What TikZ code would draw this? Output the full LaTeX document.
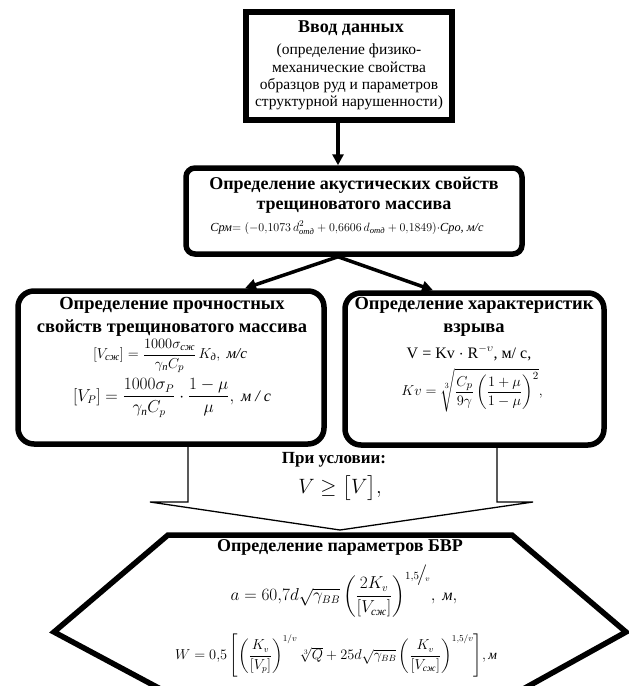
\documentclass[tikz,border=0pt]{standalone}
\usepackage{amsmath}
\usepackage{fontspec}
\setmainfont{Liberation Serif}
\usetikzlibrary{arrows.meta,calc}
\newcommand{\cy}[1]{\text{\itshape #1}}
\begin{document}
\begin{tikzpicture}[x=1pt,y=-1pt,
  thickbox/.style={draw,line width=5.5pt,inner sep=0pt},
  txt/.style={inner sep=0pt,align=center},
  ttl/.style={txt,font=\fontsize{18.5}{23}\selectfont\bfseries},
  conn/.style={line width=3.5pt,-{Triangle[length=11pt,width=11pt]}},
  funnel/.style={line width=1.3pt,line join=miter},
  hexline/.style={line width=5.5pt,line join=miter}]
\useasboundingbox[fill=white] (0,0) rectangle (629,686);

% funnel arrow (drawn first, boxes cover its top)
\coordinate (fa) at (188,446);
\coordinate (fb) at (497,446);
\draw[funnel] (fa) -- (188,502) -- (150,502) -- (340,530) -- (533,502) -- (497,502) -- (fb);

% boxes
\node[thickbox,minimum width=206pt,minimum height=108pt] (box1) at (349,66) {};
\node[thickbox,rounded corners=9pt,minimum width=336pt,minimum height=86pt] (box2) at (354,211) {};
\node[thickbox,rounded corners=16pt,minimum width=306pt,minimum height=153pt] (box3) at (171,367.5) {};
\node[thickbox,rounded corners=16pt,minimum width=259pt,minimum height=152pt] (box4) at (474.5,369) {};

% connectors
\coordinate (stem) at (338,0);
\coordinate (tipL) at (245,0);
\coordinate (tipR) at (433,0);
\draw[conn] (box1.south -| stem) -- (box2.north -| stem);
\draw[conn] (box2.south -| stem) -- (box3.north -| tipL);
\draw[conn] (box2.south -| stem) -- (box4.north -| tipR);

% box1 text
\node[txt,font=\fontsize{18}{20}\selectfont\bfseries] (t1a) at (351,28) {Ввод данных};
\node[txt,font=\fontsize{15.5}{17.4}\selectfont] (t1b) at (349,77) {(определение физико-\\ механические свойства\\ образцов руд и параметров\\ структурной нарушенности)};

% box2 text
\node[ttl,font=\fontsize{18}{20.5}\selectfont\bfseries] (t2) at (354,195) {Определение акустических свойств\\ трещиноватого массива};
\node[txt,font=\fontsize{12.3}{14}\selectfont] (f2) at (347,228) {\textit{Срм}$=(-0{,}1073\,d^2_{\cy{отд}}+0{,}6606\,d_{\cy{отд}}+0{,}1849)\cdot$\textit{Сро, м/с}};

% box3 text
\node[ttl] (t3) at (172,317) {Определение прочностных\\ свойств трещиноватого массива};
\node[txt,font=\fontsize{15}{16}\selectfont] (f3a) at (170,356) {$[V_{\cy{сж}}]=\dfrac{1000\sigma_{\cy{сж}}}{\gamma_{\cy{п}}C_p}\,K_{\cy{д}},\ \cy{м/с}$};
\node[txt,font=\fontsize{16}{17}\selectfont] (f3b) at (172,398) {$[V_P]=\dfrac{1000\sigma_P}{\gamma_{\cy{п}}C_p}\cdot\dfrac{1-\mu}{\mu},\ \cy{м / с}$};

% box4 text
\node[ttl] (t4) at (474,317) {Определение характеристик\\ взрыва};
\node[txt,font=\fontsize{16}{17}\selectfont] (f4a) at (469,353) {V = Kv $\cdot$ R$^{-\upsilon}$, м/ с,};
\node[txt,font=\fontsize{15.5}{17}\selectfont] (f4b) at (472,390) {$Kv=\sqrt[3]{\dfrac{C_p}{9\gamma}\left(\dfrac{1+\mu}{1-\mu}\right)^{2}},$};

% condition
\node[txt,font=\fontsize{17}{19}\selectfont\bfseries] (c1) at (334,460) {При условии:};
\node[txt,font=\fontsize{20}{22}\selectfont] (c2) at (340,488) {$V\geq\bigl[V\bigr],$};

% hexagon
\begin{scope}
\clip (0,0) rectangle (629,686);
\draw[hexline] (168,535) -- (512,535) -- (626,632) -- (516,693) -- (168,693) -- (54,632) -- cycle;
\end{scope}
\node[txt,font=\fontsize{18}{20}\selectfont\bfseries] (h1) at (340,547) {Определение параметров БВР};
\node[txt,font=\fontsize{16}{17}\selectfont] (h2) at (344,591) {$a=60{,}7d\sqrt{\gamma_{BB}}\left(\dfrac{2K_v}{[V_{\cy{сж}}]}\right)^{1{,}5\!\big/\!_{v}}\!,\ \cy{м},$};
\node[txt,font=\fontsize{13.5}{15}\selectfont] (h3) at (336,656) {$W=0{,}5\left[\left(\dfrac{K_v}{[V_p]}\right)^{1/v}\sqrt[3]{Q}+25d\sqrt{\gamma_{BB}}\left(\dfrac{K_v}{[V_{\cy{сж}}]}\right)^{1{,}5/v}\right]\!,\cy{м}$};
\end{tikzpicture}
\end{document}
